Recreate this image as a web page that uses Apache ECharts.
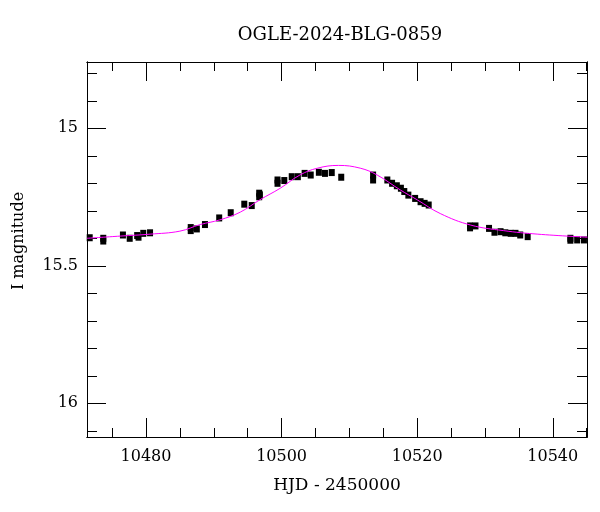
<!DOCTYPE html>
<html>
<head>
<meta charset="utf-8">
<script src="https://cdn.jsdelivr.net/npm/echarts@6/dist/echarts.min.js"></script>
<style>html,body{margin:0;padding:0;background:#fff}#c{width:600px;height:512px}</style>
</head>
<body>
<div id="c"></div>
<script>
// Observed points (HJD-2450000, I mag)
const obsHjd = [10471.7,10473.7,10473.7,10476.6,10477.6,10478.7,10478.9,10479.6,10480.6,
  10486.6,10486.6,10487.5,10488.7,10490.8,10492.5,10494.5,10495.6,10496.7,10496.7,10496.8,
  10499.4,10499.4,10500.4,10501.5,10502.4,10503.4,10504.3,10505.5,10506.4,10507.4,10508.8,
  10513.5,10513.5,10515.6,10516.3,10517.0,10517.6,10518.1,10518.7,10519.7,10520.5,10521.1,10521.7,
  10527.8,10527.8,10528.6,10530.6,10531.4,10532.3,10533.0,10533.8,10534.5,10535.2,10536.3,
  10542.6,10542.6,10543.6,10544.6];
const obsMag = [15.398,15.400,15.410,15.388,15.400,15.390,15.396,15.382,15.380,
  15.361,15.372,15.366,15.350,15.326,15.307,15.276,15.281,15.236,15.249,15.242,
  15.188,15.200,15.190,15.176,15.176,15.164,15.170,15.160,15.164,15.161,15.178,
  15.170,15.188,15.188,15.200,15.209,15.218,15.230,15.243,15.255,15.267,15.273,15.279,
  15.355,15.362,15.355,15.364,15.378,15.376,15.380,15.382,15.382,15.388,15.394,
  15.400,15.407,15.406,15.406];
// Model curve
const modelHjd = [10471.3,10476.2,10480.6,10485.0,10488.0,10490.9,10493.9,10496.8,10499.8,10502.7,10505.3,10508.4,10511.6,10514.1,10517.5,10520.0,10523.4,10527.9,10532.7,10537.8,10545.1];
const modelMag = [15.400,15.392,15.385,15.374,15.350,15.333,15.305,15.260,15.218,15.170,15.145,15.135,15.145,15.170,15.224,15.260,15.310,15.352,15.372,15.385,15.396];
// Ticks
const xMajorTicks = [10480,10500,10520,10540];
const xMinorTicks = [10475,10485,10490,10495,10505,10510,10515,10525,10530,10535,10545];
const yMajorTicks = [15,15.5,16];
const yMinorTicks = [14.8,14.9,15.1,15.2,15.3,15.4,15.6,15.7,15.8,15.9,16.1];
const titleText = 'OGLE-2024-BLG-0859';
const xName = 'HJD - 2450000';
const yName = 'I magnitude';

const XMIN = 10471.3, XMAX = 10545.05, YMIN = 14.759, YMAX = 16.1225;
const FONT = 'DejaVu Serif';
const black = '#000';

function xAx(pos, ticks, len, labels) {
  return {type:'value', min:XMIN, max:XMAX, position:pos, gridIndex:0,
    axisLine:{show:true, onZero:false, lineStyle:{color:black, width:1}},
    axisTick:{show:true, inside:true, length:len, customValues:ticks, lineStyle:{color:black, width:1}},
    axisLabel: labels ? {show:true, customValues:ticks, color:black, fontFamily:FONT, fontSize:16, margin:12,
      formatter: v => String(v)} : {show:false},
    splitLine:{show:false}};
}
function yAx(pos, ticks, len, labels) {
  return {type:'value', min:YMIN, max:YMAX, inverse:true, position:pos, gridIndex:0,
    axisLine:{show:true, onZero:false, lineStyle:{color:black, width:1}},
    axisTick:{show:true, inside:true, length:len, customValues:ticks, lineStyle:{color:black, width:1}},
    axisLabel: labels ? {show:true, customValues:ticks, color:black, fontFamily:FONT, fontSize:16, margin:9,
      formatter: v => String(v)} : {show:false},
    splitLine:{show:false}};
}

const chart = echarts.init(document.getElementById('c'), null, {renderer:'canvas'});
chart.setOption({
  animation:false,
  backgroundColor:'#fff',
  grid:{left:87, top:62, width:500, height:375, containLabel:false},
  xAxis:[xAx('bottom', xMajorTicks, 19, true), xAx('bottom', xMinorTicks, 9, false),
         xAx('top', xMajorTicks, 19, false), xAx('top', xMinorTicks, 9, false)],
  yAxis:[yAx('left', yMajorTicks, 19, true), yAx('left', yMinorTicks, 10, false),
         yAx('right', yMajorTicks, 19, false), yAx('right', yMinorTicks, 10, false)],
  graphic:[
    {type:'text', x:340, y:35, style:{text:titleText, font:'18px "DejaVu Serif"', fill:black, align:'center', verticalAlign:'middle'}},
    {type:'text', x:337, y:486, style:{text:xName, font:'17px "DejaVu Serif"', fill:black, align:'center', verticalAlign:'middle'}},
    {type:'text', x:19, y:241, rotation:Math.PI/2, style:{text:yName, font:'16px "DejaVu Serif"', fill:black, align:'center', verticalAlign:'middle'}}
  ],
  series:[
    {type:'scatter', xAxisIndex:0, yAxisIndex:0, symbol:'rect', symbolSize:[6,7],
     itemStyle:{color:black, opacity:1}, data: obsHjd.map((x,i)=>[x, obsMag[i]]), z:2},
    {type:'line', xAxisIndex:0, yAxisIndex:0, showSymbol:false, smooth:0.4,
     lineStyle:{color:'#ff00ff', width:1}, data: modelHjd.map((x,i)=>[x, modelMag[i]]), z:3}
  ]
});
</script>
</body>
</html>
